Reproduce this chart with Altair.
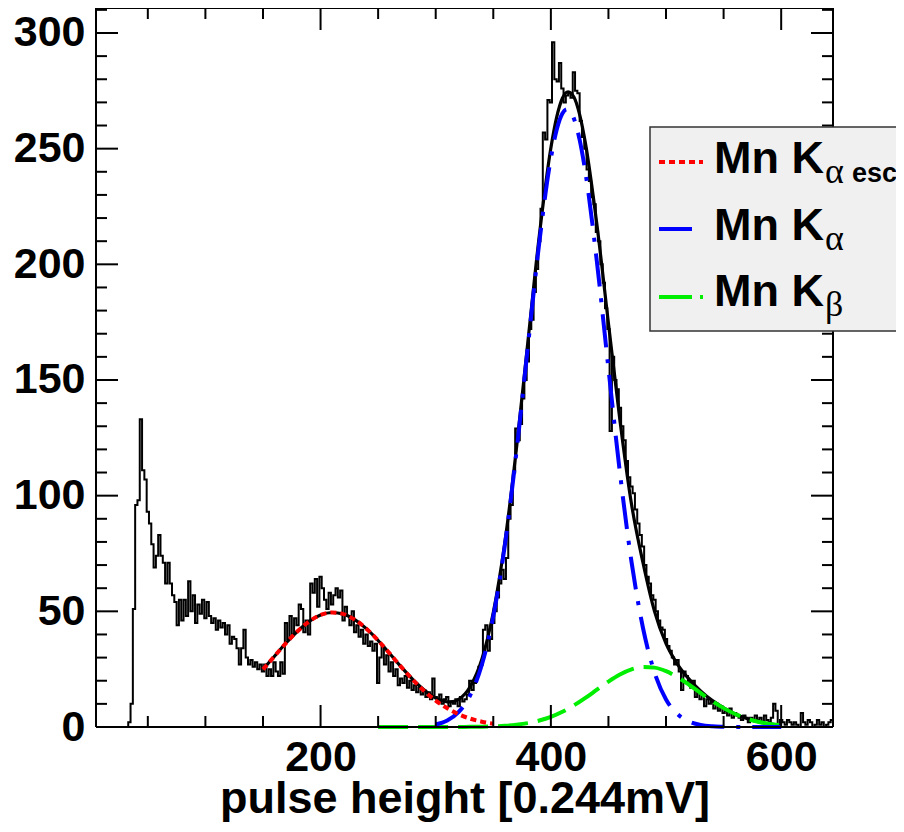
import altair as alt
import pandas as pd

W, H = 737, 719
X0, X1 = 5, 645
Y1 = 310.8
FONT = "Liberation Sans"

# ---------------- histogram (bin width 2, first bin starts at 5) ----------------
bin_start = 5
bin_width = 2
counts = [
    0, 0, 0, 0, 0, 0, 0, 0, 0, 0,              # 5-25
    0, 0, 0, 0, 2, 10, 51, 96, 98, 133,        # 25-45
    111, 107, 93, 88, 79, 69, 74, 83, 74, 71,  # 45-65
    62, 71, 62, 57, 54, 44, 55, 46, 55, 48,    # 65-85
    63, 50, 57, 45, 53, 49, 55, 47, 54, 48,    # 85-105
    45, 47, 42, 46, 43, 45, 40, 44, 36, 39,    # 105-125
    38, 34, 27, 34, 42, 30, 27, 29, 26, 28,    # 125-145
    25, 27, 24, 27, 22, 25, 22, 28, 24, 22,    # 145-165
    28, 23, 45, 38, 48, 40, 47, 44, 53, 51,    # 165-185
    41, 46, 40, 62, 58, 64, 52, 65, 60, 55,    # 185-205
    51, 58, 53, 57, 60, 56, 59, 46, 52, 48,    # 205-225
    44, 50, 41, 44, 39, 42, 36, 40, 35, 37,    # 225-245
    33, 36, 19, 30, 35, 27, 31, 24, 28, 22,    # 245-265
    25, 18, 21, 19, 22, 17, 20, 16, 18, 15,    # 265-285
    17, 14, 16, 13, 15, 12, 21, 13, 11, 14,    # 285-305
    10, 12, 13, 9, 11, 10, 12, 9, 13, 11,      # 305-325
    12, 14, 20, 16, 19, 22, 26, 27, 42, 44,    # 325-345
    33, 38, 45, 50, 56, 62, 68, 64, 73, 90,    # 345-365
    96, 110, 129, 124, 131, 142, 150, 158, 172, 176,   # 365-385
    188, 198, 210, 224, 257, 254, 271, 270, 296, 280,  # 385-405
    279, 287, 276, 270, 273, 274, 272, 283, 275, 274,  # 405-425
    262, 255, 250, 241, 236, 229, 226, 214, 210, 200,  # 425-445
    192, 181, 172, 128, 160, 150, 146, 138, 130, 124,  # 445-465
    115, 108, 104, 101, 94, 88, 83, 78, 70, 65,        # 465-485
    62, 57, 55, 50, 46, 43, 42, 38, 35, 33,    # 485-505
    30, 27, 29, 24, 16, 24, 22, 19, 17, 20,    # 505-525
    13, 16, 12, 14, 9, 12, 10, 11, 8, 10,      # 525-545
    7, 9, 6, 7, 5, 8, 4, 6, 5, 4,              # 545-565
    3, 5, 4, 2, 4, 3, 5, 3, 4, 2,              # 565-585
    5, 3, 2, 4, 10, 7, 1, 3, 2, 1,             # 585-605
    3, 2, 1, 2, 1, 0, 6, 2, 1, 3,              # 605-625
    2, 0, 1, 3, 1, 2, 0, 1, 2, 3,              # 625-645
]

# ---------------- fitted curves ----------------
total_x = [150, 160, 170, 180, 190, 200, 210, 220, 230, 240, 250, 260, 270, 280, 290,
           300, 305, 310, 315, 320, 330, 340, 350, 360, 370, 380, 390, 400, 405, 410,
           415, 420, 425, 430, 440, 450, 460, 470, 480, 490, 500, 510, 520, 530, 540,
           550, 560, 570, 580, 590, 600]
total_y = [24.9, 30.6, 36.3, 41.4, 45.6, 48.4, 49.5, 48.8, 46.3, 42.4, 37.4, 31.8, 26.0, 20.6, 16.0,
           12.5, 11.5, 10.9, 11.0, 12.0, 17.5, 29.2, 49.5, 79.7, 119.9, 166.3, 212.6, 250.3, 263.5, 271.8,
           274.6, 272.3, 264.7, 252.4, 217.1, 174.5, 132.5, 96.4, 71.0, 50.0, 36.0, 27.1, 20.7, 15.6, 11.5,
           8.3, 5.6, 3.7, 2.3, 1.35, 0.76]

esc_x = [150, 160, 170, 180, 190, 200, 210, 220, 230, 240, 250, 260, 270, 280, 290,
         300, 310, 320, 330, 340, 350]
esc_y = [24.9, 30.6, 36.3, 41.4, 45.6, 48.4, 49.5, 48.8, 46.3, 42.4, 37.4, 31.8, 26.0, 20.5, 15.6,
         11.4, 8.1, 5.5, 3.6, 2.3, 1.4]

ka_x = [300, 310, 320, 330, 340, 350, 360, 370, 380, 390, 400, 405, 410, 414, 420, 425, 430,
        440, 450, 460, 470, 480, 490, 500, 510, 520, 530, 540, 550, 560, 570, 580, 590, 600]
ka_y = [1.1, 2.8, 6.5, 13.8, 26.8, 47.8, 78.4, 118.4, 164.3, 209.6, 245.9, 258.1, 265.2, 267.0, 263.0,
        253.8, 239.8, 201.0, 154.9, 109.8, 71.5, 42.8, 23.6, 11.9, 5.6, 2.4, 0.9, 0.3, 0.1, 0, 0, 0, 0, 0]

kb_x = [250, 260, 270, 280, 290, 300, 310, 320, 330, 340, 350, 360, 370, 380, 390, 400, 410,
        420, 430, 440, 450, 460, 470, 480, 490, 500, 510, 520, 530, 540, 550, 560, 570, 580, 590, 600]
kb_y = [0, 0, 0, 0, 0, 0.01, 0.01, 0.03, 0.06, 0.13, 0.27, 0.52, 0.96, 1.67, 2.79, 4.39, 6.58,
        9.34, 12.58, 16.13, 19.64, 22.68, 24.89, 25.94, 25.67, 24.13, 21.54, 18.27, 14.70, 11.24,
        8.16, 5.62, 3.68, 2.29, 1.35, 0.76]

# ---------------- axis ticks ----------------
x_major = [200, 400, 600]
x_minor = [50, 100, 150, 250, 300, 350, 450, 500, 550]
y_major = [0, 50, 100, 150, 200, 250, 300]
y_minor = [10, 20, 30, 40, 60, 70, 80, 90, 110, 120, 130, 140, 160, 170, 180, 190,
           210, 220, 230, 240, 260, 270, 280, 290, 310]

# ---------------- legend ----------------
legend_labels = ["Mn K", "Mn K", "Mn K"]
legend_subs = ["α", "α", "β"]
legend_extra = "esc."

# ---------------- build ----------------
edges = [bin_start + bin_width * i for i in range(len(counts) + 1)]
hist_df = pd.DataFrame({"x": edges, "y": counts + [counts[-1]]})

xenc = alt.X("x:Q",
             scale=alt.Scale(domain=[X0, X1], nice=False, zero=False),
             axis=alt.Axis(values=x_major, title="pulse height [0.244mV]",
                           ticks=False, domain=False, grid=False, labelFlush=False,
                           labelFont=FONT, labelFontSize=43, labelFontWeight="bold",
                           labelColor="black", labelPadding=9, labelOverlap=False,
                           titleFont=FONT, titleFontSize=45, titleFontWeight="bold",
                           titleColor="black", titleBaseline="alphabetic",
                           titleY=85, titleX=W / 2, format="d"))
yenc = alt.Y("y:Q",
             scale=alt.Scale(domain=[0, Y1], nice=False, zero=False),
             axis=alt.Axis(values=y_major, title=None, ticks=False, domain=False,
                           grid=False, labelFlush=False, labelOverlap=False,
                           labelFont=FONT, labelFontSize=43, labelFontWeight="bold",
                           labelColor="black", labelPadding=11, format="d"))

hist = alt.Chart(hist_df).mark_line(interpolate="step-after", color="black",
                                    strokeWidth=2).encode(x=xenc, y=yenc)


def curve(xs, ys, color, width, dash=None):
    df = pd.DataFrame({"x": xs, "y": ys})
    kw = dict(color=color, strokeWidth=width, interpolate="monotone", strokeCap="butt")
    if dash:
        kw["strokeDash"] = dash
    return alt.Chart(df).mark_line(**kw).encode(x=xenc, y=yenc)


total = curve(total_x, total_y, "black", 3.2)
green = curve(kb_x, kb_y, "#00ee00", 4, [30, 10])
blue = curve(ka_x, ka_y, "#0000ff", 4, [33, 12, 4, 12])
red = curve(esc_x, esc_y, "#ff0000", 4, [6, 4])

one = pd.DataFrame({"d": [0]})
tk = dict(color="black", strokeWidth=2)


def xticks(vals, length):
    df = pd.DataFrame({"x": vals})
    b = alt.Chart(df).mark_rule(**tk).encode(x=xenc, y=alt.value(H), y2=alt.value(H - length))
    t = alt.Chart(df).mark_rule(**tk).encode(x=xenc, y=alt.value(0), y2=alt.value(length))
    return [b, t]


def yticks(vals, length):
    df = pd.DataFrame({"y": vals})
    l = alt.Chart(df).mark_rule(**tk).encode(y=yenc, x=alt.value(0), x2=alt.value(length))
    r = alt.Chart(df).mark_rule(**tk).encode(y=yenc, x=alt.value(W), x2=alt.value(W - length))
    return [l, r]


frame = [
    alt.Chart(one).mark_rule(**tk).encode(x=alt.value(0), y=alt.value(0), y2=alt.value(H)),
    alt.Chart(one).mark_rule(**tk).encode(x=alt.value(W), y=alt.value(0), y2=alt.value(H)),
    alt.Chart(one).mark_rule(**tk).encode(x=alt.value(0), x2=alt.value(W), y=alt.value(0)),
    alt.Chart(one).mark_rule(**tk).encode(x=alt.value(0), x2=alt.value(W), y=alt.value(H)),
]

box = alt.Chart(one).mark_rect(fill="#f0f0f0", stroke="#333333", strokeWidth=1.5).encode(
    x=alt.value(554), x2=alt.value(900), y=alt.value(119), y2=alt.value(323))

rows_y = [154, 221, 289]
base_y = [165, 232, 298]
samples = [
    alt.Chart(one).mark_rule(color="#ff0000", strokeWidth=4, strokeDash=[6, 4]).encode(
        x=alt.value(563), x2=alt.value(607), y=alt.value(rows_y[0])),
    alt.Chart(one).mark_rule(color="#0000ff", strokeWidth=4, strokeDash=[33, 12, 4, 12]).encode(
        x=alt.value(563), x2=alt.value(607), y=alt.value(rows_y[1])),
    alt.Chart(one).mark_rule(color="#00ee00", strokeWidth=4, strokeDash=[33, 8]).encode(
        x=alt.value(563), x2=alt.value(607), y=alt.value(rows_y[2])),
]
texts = []
for i in range(3):
    texts.append(alt.Chart(one).mark_text(text=legend_labels[i], font=FONT, fontSize=45,
                                          fontWeight="bold", align="left", baseline="alphabetic",
                                          color="black").encode(
        x=alt.value(618), y=alt.value(base_y[i])))
    texts.append(alt.Chart(one).mark_text(text=legend_subs[i], font="Liberation Serif", fontSize=36,
                                          align="left", baseline="alphabetic", color="black").encode(
        x=alt.value(729), y=alt.value(base_y[i] + 10)))
texts.append(alt.Chart(one).mark_text(text=legend_extra, font=FONT, fontSize=27, fontWeight="bold",
                                      align="left", baseline="alphabetic", color="black").encode(
    x=alt.value(756), y=alt.value(base_y[0] + 9)))

layers = ([hist, total, green, blue, red]
          + xticks(x_major, 22) + xticks(x_minor, 11)
          + yticks(y_major, 22) + yticks(y_minor, 11)
          + frame + [box] + samples + texts)

chart = alt.layer(*layers).properties(
    width=W, height=H,
    padding={"left": 88, "top": 0, "right": 63, "bottom": 97},
    autosize=alt.AutoSizeParams(type="none"),
    background="white",
).configure_view(stroke=None)

chart.save("out.html", embed_options={"renderer": "svg", "actions": False})
